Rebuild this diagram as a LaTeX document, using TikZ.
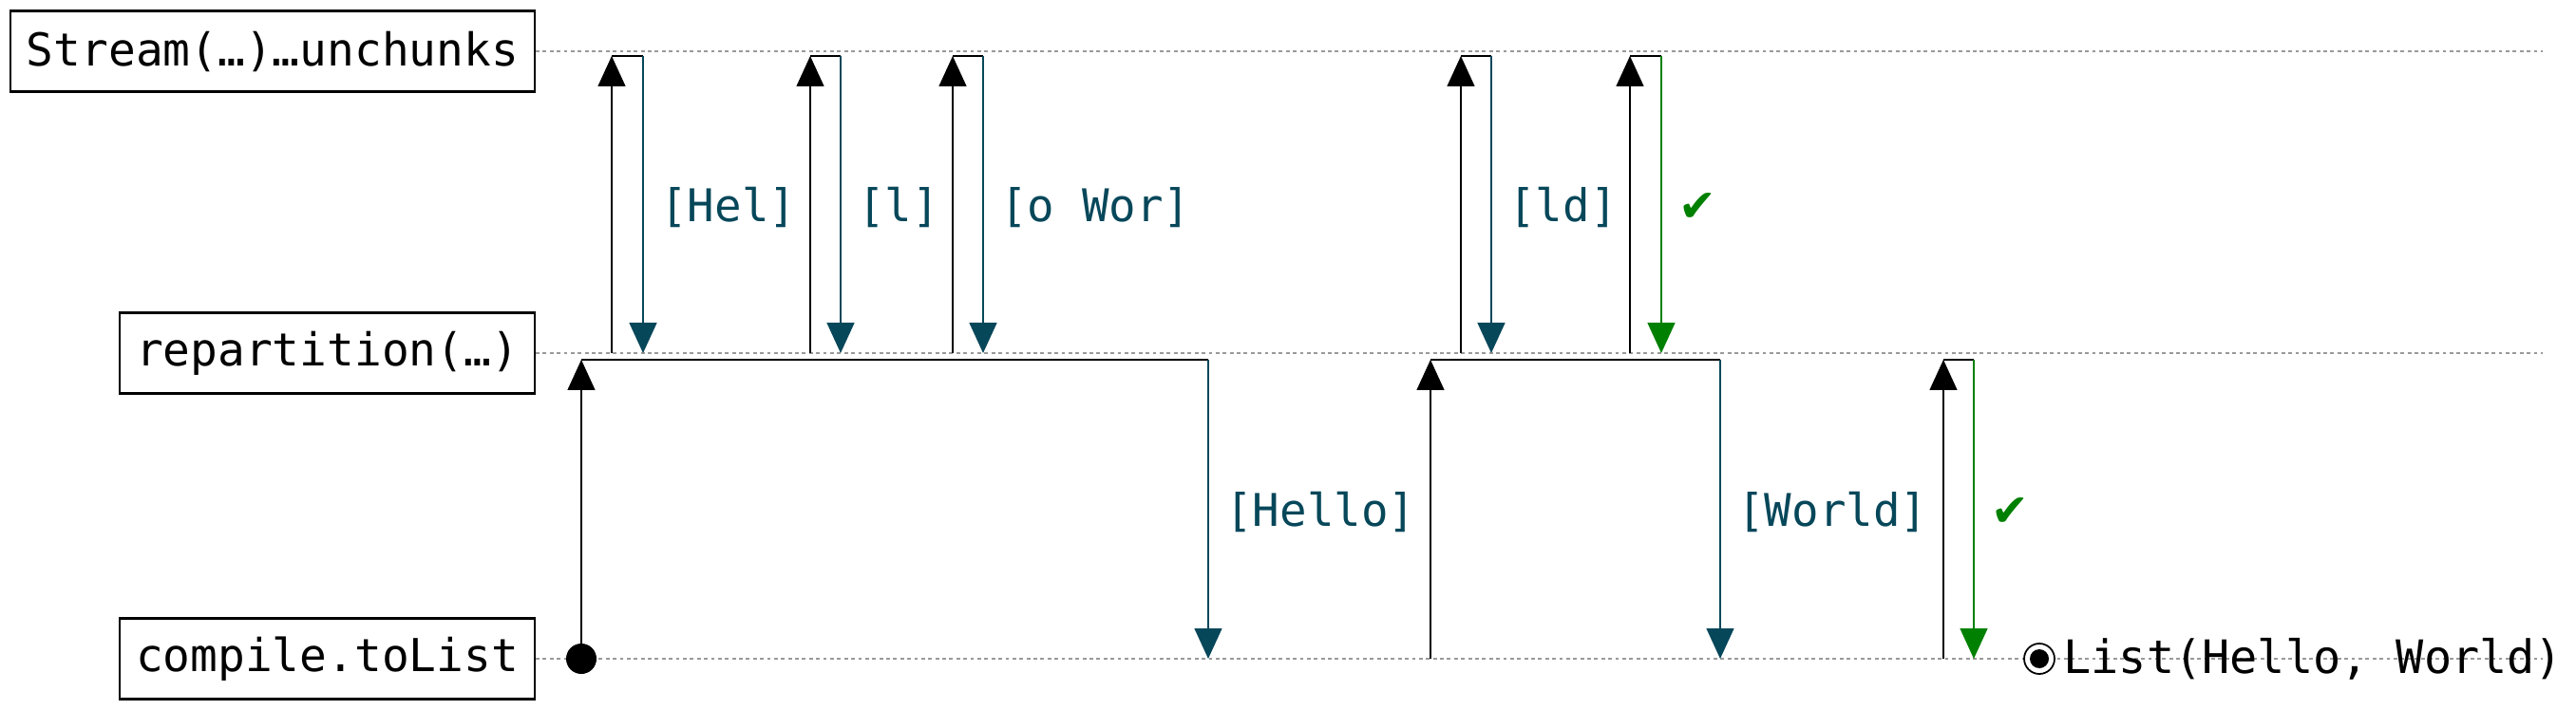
\documentclass[tikz,border=0pt]{standalone}
\usepackage{fontspec}
\setmonofont{DejaVu Sans Mono}
\newfontfamily\symfont{DejaVu Sans}
\usetikzlibrary{arrows.meta}
\definecolor{msg}{HTML}{07475A}
\definecolor{okgreen}{HTML}{008000}
\newcommand\lanefont{\ttfamily\fontsize{13.6}{16}\selectfont}
\newcommand\msgfont{\ttfamily\fontsize{13.5}{16}\selectfont}
\newcommand\okmark{{\symfont ✔}}
\tikzset{
  lane/.style = {draw, line width=0.6pt, font=\lanefont, anchor=east,
    minimum height=0.85cm, inner xsep=0.17cm},% lifeline box
  guide/.style = {gray!80, line width=0.5pt, dash pattern=on 1.1pt off 1pt},
  req/.style = {-{Triangle[length=0.32cm,width=0.29cm]}, line width=0.4pt},
  reply/.style = {-{Triangle[length=0.32cm,width=0.29cm]}, line width=0.4pt, #1},
  lbl/.style = {right, xshift=0.06cm, yshift=-0.03cm, font=\msgfont, text=#1},
  dot/.style = {circle, fill=black, minimum size=0.32cm, inner sep=0pt}
}

\begin{document}
\begin{tikzpicture}
\useasboundingbox (0,0) rectangle (27.12,-7.48);
% lifelines
\node [lane] (stream) at (5.64,-0.54) {Stream(…)…unchunks};
\node [lane] (repart) at (5.64,-3.72) {repartition(…)};
\node [lane] (tolist) at (5.64,-6.94) {compile.toList};
\coordinate (streamend) at (26.77,-0.54);
\coordinate (repartend) at (26.77,-3.72);
\coordinate (tolistend) at (26.77,-6.94);
\draw [guide] (stream.east) -- (streamend);
\draw [guide] (repart.east) -- (repartend);
\draw [guide] (tolist.east) -- (tolistend);

% chunks pulled from the stream
\foreach \n/\xu/\xd/\txt/\col in {1/6.44/6.77/[Hel]/msg, 2/8.53/8.85/[l]/msg,
    3/10.03/10.35/[o Wor]/msg, 4/15.38/15.70/[ld]/msg, 5/17.16/17.49/\okmark/okgreen}{
  \coordinate (su\n) at (\xu,-3.72);
  \coordinate (st\n) at (\xu,-0.59);
  \coordinate (sd\n) at (\xd,-0.59);
  \coordinate (sr\n) at (\xd,-3.72);
  \draw [req] (su\n) -- (st\n);
  \draw [line width=0.4pt] (st\n) -- (sd\n);
  \draw [reply=\col] (sd\n) -- node [lbl=\col] {\txt} (sr\n);
}

% repartitioned elements
\node [dot] (start) at (6.12,-6.94) {};
\foreach \n/\xu/\xd/\txt/\col in {1/6.12/12.72/[Hello]/msg, 2/15.06/18.11/[World]/msg,
    3/20.46/20.78/\okmark/okgreen}{
  \coordinate (mu\n) at (\xu,-6.94);
  \coordinate (mt\n) at (\xu,-3.79);
  \coordinate (md\n) at (\xd,-3.79);
  \coordinate (mr\n) at (\xd,-6.94);
  \draw [req] (mu\n) -- (mt\n);
  \draw [line width=0.8pt] (mt\n) -- (md\n);
  \draw [reply=\col] (md\n) -- node [lbl=\col] {\txt} (mr\n);
}

% result
\node [circle, draw, fill=white, line width=0.5pt, minimum size=0.32cm, inner sep=0pt] (done) at (21.47,-6.94) {};
\fill (done.center) circle (0.1);
\node [right, font=\ttfamily\fontsize{13.8}{16}\selectfont, inner sep=0.08cm] (value) at (done.east) {List(Hello, World)};
\end{tikzpicture}
\end{document}
